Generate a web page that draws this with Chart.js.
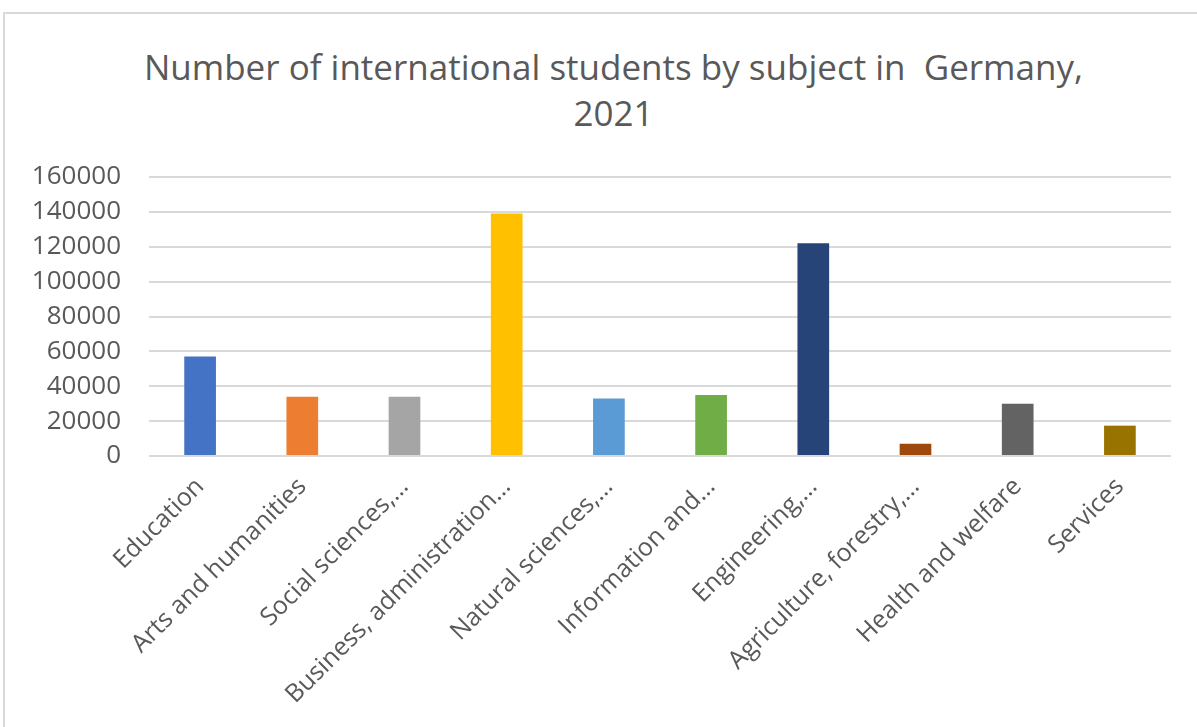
<!DOCTYPE html>
<html>
<head>
<meta charset="utf-8">
<script src="https://cdn.jsdelivr.net/npm/chart.js@4"></script>
<style>
    html, body {
        margin: 0;
        padding: 0;
        width: 1197px;
        height: 727px;
        overflow: hidden;
        background: #fff;
    }
    .frame {
        position: absolute;
        left: 3px;
        top: 12px;
        width: 1300px;
        height: 900px;
        border: 2px solid #d9d9d9;
    }
    .chart-title {
        position: absolute;
        left: 0;
        top: 44px;
        width: 1227px;
        text-align: center;
        font-family: 'Open Sans', sans-serif;
        font-size: 35px;
        line-height: 46px;
        color: #595959;
        white-space: pre;
    }
    #chart {
        position: absolute;
        left: 0;
        top: 0;
    }
</style>
</head>
<body>
<div class="frame"></div>
<div class="chart-title" id="title"></div>
<canvas id="chart" width="1197" height="727"></canvas>
<script>
// Subjects and student counts
const titleLines = ['Number of international students by subject in  Germany,', '2021'];
const subjects = [
    'Education',
    'Arts and humanities',
    'Social sciences,…',
    'Business, administration…',
    'Natural sciences,…',
    'Information and…',
    'Engineering,…',
    'Agriculture, forestry,…',
    'Health and welfare',
    'Services'
];
const students = [57000, 34000, 34000, 139000, 33000, 35000, 122000, 7000, 30000, 17400];
const barColors = ['#4472C4', '#ED7D31', '#A5A5A5', '#FFC000', '#5B9BD5', '#70AD47', '#264478', '#9E480E', '#636363', '#997300'];
const yTicks = [0, 20000, 40000, 60000, 80000, 100000, 120000, 140000, 160000];

const textColor = '#595959';
const fontFamily = "'Open Sans', sans-serif";

document.getElementById('title').textContent = titleLines.join('\n');

const ctx = document.getElementById('chart');
const chart = new Chart(ctx, {
    type: 'bar',
    data: {
        labels: subjects,
        datasets: [{
            data: students,
            backgroundColor: barColors,
            borderWidth: 0,
            barPercentage: 0.31,
            categoryPercentage: 1
        }]
    },
    options: {
        responsive: false,
        animation: false,
        layout: {
            // room above the plot is taken by the html title
            padding: { left: 0, right: 26, top: 177, bottom: 0 }
        },
        plugins: {
            legend: { display: false },
            tooltip: { enabled: false },
            title: { display: false }
        },
        scales: {
            x: {
                grid: { display: false },
                border: { display: false },
                ticks: {
                    color: textColor,
                    font: { family: fontFamily, size: 25 },
                    minRotation: 45,
                    maxRotation: 45,
                    autoSkip: false,
                    padding: 8
                },
                afterFit: function(scale) {
                    scale.height = 271;
                }
            },
            y: {
                min: 0,
                max: 160000,
                afterBuildTicks: function(scale) {
                    scale.ticks = yTicks.map(v => ({ value: v }));
                },
                grid: {
                    color: '#d9d9d9',
                    lineWidth: 2,
                    drawTicks: false
                },
                border: { display: false },
                ticks: {
                    color: textColor,
                    font: { family: fontFamily, size: 26 },
                    padding: 28,
                    callback: function(value) {
                        return String(value);
                    }
                },
                afterFit: function(scale) {
                    scale.width = 149;
                }
            }
        }
    }
});
</script>
</body>
</html>
